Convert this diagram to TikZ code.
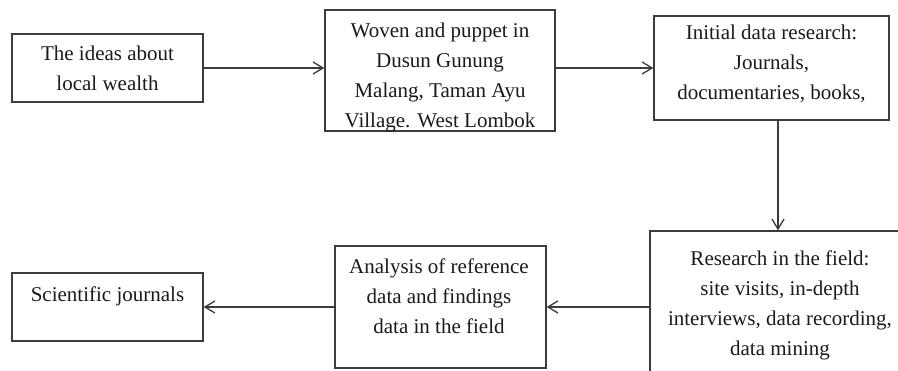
\documentclass[tikz,border=0pt]{standalone}
\usepackage{fontspec}
\setmainfont{Liberation Serif}
\usetikzlibrary{arrows.meta}
\definecolor{ln}{HTML}{3C3C3C}
\definecolor{tx}{HTML}{1A1A1A}
\tikzset{
  x=1pt, y=-1pt,
  box/.style={draw=ln, line width=1.3pt, inner sep=0pt},
  txt/.style={inner sep=0pt, align=center, anchor=north, text=tx, font=\fontsize{21}{30}\selectfont},
  arr/.style={draw=ln, line width=1.3pt, -{Straight Barb[length=10pt,width=12pt,line width=1.3pt]}}
}
\begin{document}
\begin{tikzpicture}
\useasboundingbox (0,0) rectangle (898,371);
\clip (0,0) rectangle (898,371);
% boxes
\node[box, minimum width=191pt, minimum height=68pt] (b1) at (107.5,68) {};
\node[box, minimum width=230pt, minimum height=121pt] (b2) at (440,70.5) {};
\node[box, minimum width=235pt, minimum height=104pt] (b3) at (771.5,68) {};
\node[box, minimum width=260pt, minimum height=160pt] (b4) at (780,311) {};
\node[box, minimum width=211pt, minimum height=122pt] (b5) at (440.5,307) {};
\node[box, minimum width=191pt, minimum height=68pt] (b6) at (107.5,307) {};
% texts
\node[txt] (t1) at (107.5,46) {The ideas about\\local wealth};
\begin{scope}
\clip (b2.north west) rectangle (b2.south east);
\node[txt] (t2) at (440,22.5) {Woven and puppet in\\Dusun Gunung\\Malang, Taman Ayu\\Village. West Lombok};
\end{scope}
\node[txt] (t3) at (771.5,25) {Initial data research:\\Journals,\\documentaries, books,};
\node[txt] (t4) at (780,250.5) {Research in the field:\\site visits, in-depth\\interviews, data recording,\\data mining};
\node[txt] (t5) at (439,258.5) {Analysis of reference\\data and findings\\data in the field};
\node[txt] (t6) at (107.5,286.5) {Scientific journals};
% connectors
\draw[arr] (b1.east) -- (b2.west |- b1.east);
\draw[arr] (b2.east |- b1.east) -- (b3.west |- b1.east);
\draw[arr] (b3.south -| 778,0) -- (b4.north -| 778,0);
\draw[arr] (b4.west |- b5.east) -- (b5.east);
\draw[arr] (b5.west) -- (b6.east);
\end{tikzpicture}
\end{document}
